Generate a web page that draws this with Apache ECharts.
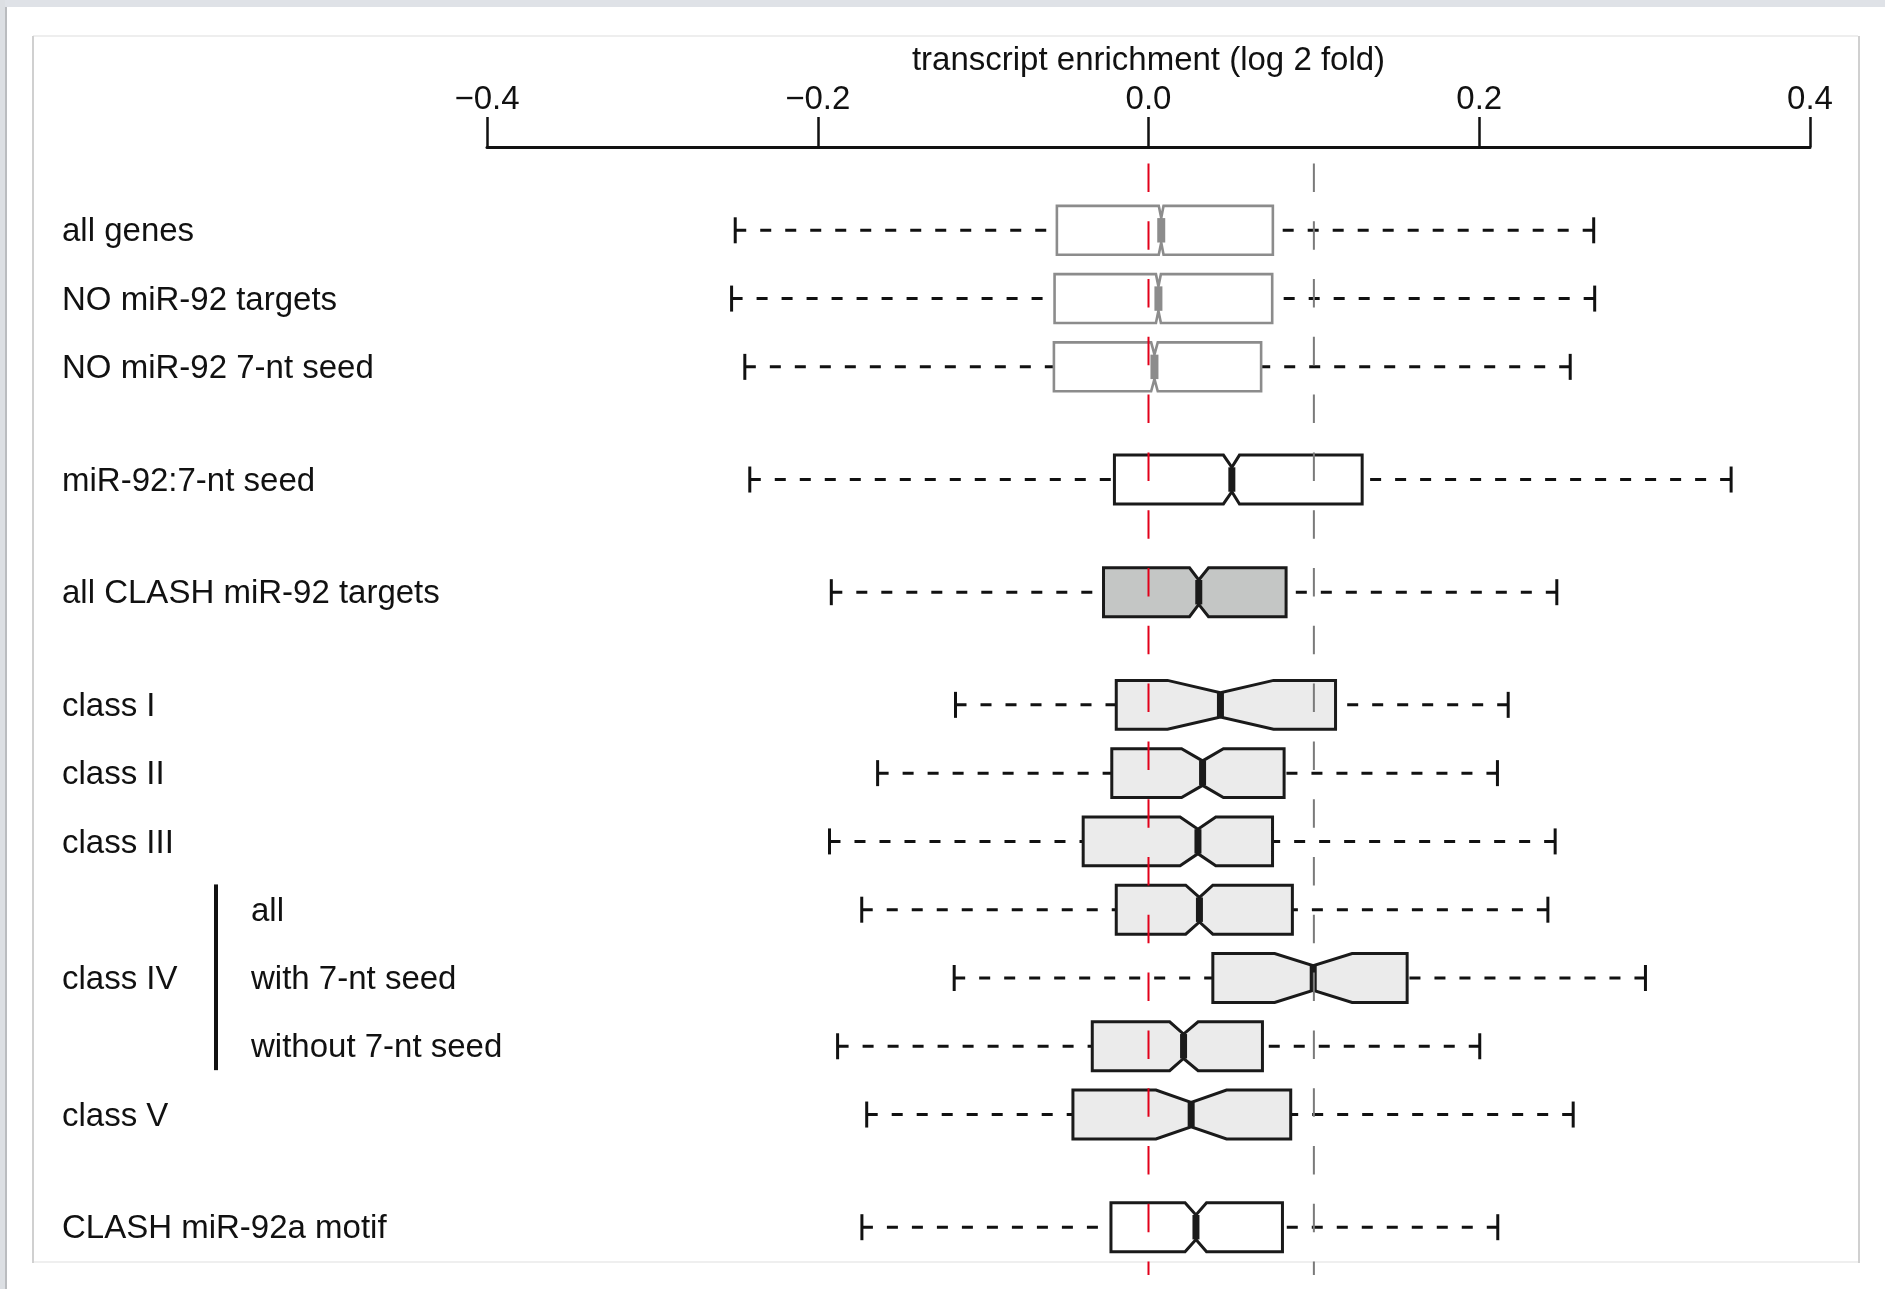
<!DOCTYPE html>
<html>
<head>
<meta charset="utf-8">
<script src="https://cdn.jsdelivr.net/npm/echarts@6/dist/echarts.min.js"></script>
<style>
  html, body { margin: 0; padding: 0; background: #ffffff; }
  #boxchart { width: 1885px; height: 1289px; }
</style>
</head>
<body>
<div id="boxchart"></div>
<script>
// row labels (left column and the class IV sub-rows)
var mainLabels = ['all genes', 'NO miR-92 targets', 'NO miR-92 7-nt seed', 'miR-92:7-nt seed',
  'all CLASH miR-92 targets', 'class I', 'class II', 'class III', '', 'class IV', '', 'class V',
  'CLASH miR-92a motif'];
var subLabels = ['', '', '', '', '', '', '', '', 'all', 'with 7-nt seed', 'without 7-nt seed', '', ''];
// vertical position of each box (rows with gaps between groups)
var rowPos = [1, 2, 3, 4.65, 6.3, 7.95, 8.95, 9.95, 10.95, 11.95, 12.95, 13.95, 15.6];

// box statistics (log2 fold)
var whiskerLow  = [-0.2499, -0.2521, -0.2441, -0.2411, -0.1918, -0.1167, -0.1638, -0.1929, -0.1734, -0.1175, -0.1880, -0.1704, -0.1733];
var q1          = [-0.0554, -0.0568, -0.0572, -0.0206, -0.0272, -0.0195, -0.0222, -0.0395, -0.0195,  0.0389, -0.0340, -0.0457, -0.0227];
var notchLo     = [ 0.0062,  0.0045,  0.0016,  0.0453,  0.0248,  0.0115,  0.0200,  0.0191,  0.0225,  0.0763,  0.0128,  0.0045,  0.0221];
var median      = [ 0.0077,  0.0060,  0.0036,  0.0504,  0.0304,  0.0435,  0.0327,  0.0299,  0.0308,  0.0996,  0.0212,  0.0258,  0.0287];
var notchHi     = [ 0.0091,  0.0075,  0.0056,  0.0550,  0.0363,  0.0756,  0.0453,  0.0407,  0.0389,  0.1231,  0.0300,  0.0472,  0.0351];
var q3          = [ 0.0752,  0.0748,  0.0681,  0.1292,  0.0832,  0.1131,  0.0820,  0.0750,  0.0870,  0.1564,  0.0689,  0.0860,  0.0810];
var whiskerHigh = [ 0.2692,  0.2698,  0.2550,  0.3523,  0.2469,  0.2175,  0.2110,  0.2459,  0.2415,  0.3005,  0.2003,  0.2568,  0.2112];
var boxKind = ['gray', 'gray', 'gray', 'open', 'dark', 'light', 'light', 'light', 'light', 'light', 'light', 'light', 'open'];

// reference lines
var refZero = 0.0;
var refTen = 0.1;

var fontFamily = "'Liberation Sans', Arial, Helvetica, sans-serif";
var styles = {
  gray:  {fill: '#ffffff', stroke: '#8c8c8c', width: 2.6, medianWidth: 8},
  open:  {fill: '#ffffff', stroke: '#1a1a1a', width: 3, medianWidth: 7},
  dark:  {fill: '#c4c6c5', stroke: '#1a1a1a', width: 3, medianWidth: 7},
  light: {fill: '#ebebeb', stroke: '#1a1a1a', width: 3, medianWidth: 7}
};
var boxWidth = 0.716;

var boxData = rowPos.map(function (p, i) {
  return [p, whiskerLow[i], q1[i], notchLo[i], median[i], notchHi[i], q3[i], whiskerHigh[i]];
});

function renderBox(params, api) {
  var i = params.dataIndex;
  var p = api.value(0);
  var c = api.coord([0, p])[1];
  var hh = api.size([0, boxWidth])[1] / 2;
  var px = function (k) { return api.coord([api.value(k), p])[0]; };
  var xlo = px(1), xq1 = px(2), xnl = px(3), xm = px(4), xnh = px(5), xq3 = px(6), xhi = px(7);
  var st = styles[boxKind[i]];
  var whisk = {stroke: '#111111', lineWidth: 3, lineDash: [11, 14]};
  var cap = {stroke: '#111111', lineWidth: 3};
  return {
    type: 'group',
    children: [
      {type: 'line', shape: {x1: xlo, y1: c, x2: xq1, y2: c}, style: whisk},
      {type: 'line', shape: {x1: xhi, y1: c, x2: xq3, y2: c}, style: whisk},
      {type: 'line', shape: {x1: xlo, y1: c - 13, x2: xlo, y2: c + 13}, style: cap},
      {type: 'line', shape: {x1: xhi, y1: c - 13, x2: xhi, y2: c + 13}, style: cap},
      {type: 'polygon', shape: {points: [
        [xq1, c - hh], [xnl, c - hh], [xm, c - hh / 2], [xnh, c - hh], [xq3, c - hh],
        [xq3, c + hh], [xnh, c + hh], [xm, c + hh / 2], [xnl, c + hh], [xq1, c + hh]
      ]}, style: {fill: st.fill, stroke: st.stroke, lineWidth: st.width, lineJoin: 'miter'}},
      {type: 'line', shape: {x1: xm, y1: c - hh / 2, x2: xm, y2: c + hh / 2},
        style: {stroke: st.stroke, lineWidth: st.medianWidth}}
    ]
  };
}

function renderLabel(params, api) {
  var i = params.dataIndex;
  var p = api.value(1);
  var y = api.coord([0, p])[1] + 2;
  var kids = [];
  if (mainLabels[i]) {
    kids.push({type: 'text', x: 62, y: y, style: {text: mainLabels[i], fontSize: 33, fontFamily: fontFamily,
      fill: '#111111', align: 'left', verticalAlign: 'middle'}});
  }
  if (subLabels[i]) {
    kids.push({type: 'text', x: 251, y: y, style: {text: subLabels[i], fontSize: 33, fontFamily: fontFamily,
      fill: '#111111', align: 'left', verticalAlign: 'middle'}});
  }
  if (mainLabels[i] === 'class IV') {
    // bracket joining the three class IV rows
    kids.push({type: 'line', shape: {x1: 216, y1: api.coord([0, p - 1.37])[1], x2: 216, y2: api.coord([0, p + 1.35])[1]},
      style: {stroke: '#111111', lineWidth: 4}});
  }
  return {type: 'group', children: kids};
}

var myChart = echarts.init(document.getElementById('boxchart'), null, {renderer: 'canvas'});

var option = {
  animation: false,
  backgroundColor: '#ffffff',
  graphic: [
    {type: 'rect', shape: {x: 0, y: 0, width: 1885, height: 7}, style: {fill: '#dfe2e7'}, silent: true},
    {type: 'rect', shape: {x: 0, y: 0, width: 5, height: 1289}, style: {fill: '#dcdfe3'}, silent: true},
    {type: 'rect', shape: {x: 5, y: 7, width: 2, height: 1282}, style: {fill: '#babcbf'}, silent: true},
    {type: 'line', shape: {x1: 33, y1: 36, x2: 1858, y2: 36}, style: {stroke: '#eeeeee', lineWidth: 2}, silent: true},
    {type: 'line', shape: {x1: 33, y1: 1262, x2: 1858, y2: 1262}, style: {stroke: '#efefef', lineWidth: 2}, silent: true},
    {type: 'line', shape: {x1: 33, y1: 36, x2: 33, y2: 1263}, style: {stroke: '#d0d0d0', lineWidth: 2}, silent: true},
    {type: 'line', shape: {x1: 1859, y1: 36, x2: 1859, y2: 1263}, style: {stroke: '#d0d0d0', lineWidth: 2}, silent: true}
  ],
  grid: {left: 487, right: 75, top: 147, bottom: 14},
  xAxis: {
    type: 'value',
    position: 'top',
    min: -0.4,
    max: 0.4,
    interval: 0.2,
    name: 'transcript enrichment (log 2 fold)',
    nameLocation: 'middle',
    nameGap: 70,
    nameTextStyle: {fontSize: 33, fontFamily: fontFamily, color: '#111111'},
    axisLine: {show: true, onZero: false, lineStyle: {color: '#111111', width: 3}},
    axisTick: {show: true, length: 30, lineStyle: {color: '#111111', width: 2.5}},
    axisLabel: {
      fontSize: 33, fontFamily: fontFamily, color: '#111111', margin: 31,
      formatter: function (v) { return (v < 0 ? '\u2212' : '') + Math.abs(v).toFixed(1); }
    },
    splitLine: {show: false}
  },
  yAxis: {
    type: 'value',
    inverse: true,
    min: -0.22,
    max: 16.3,
    show: false,
    splitLine: {show: false}
  },
  series: [
    {
      type: 'custom',
      renderItem: renderBox,
      data: boxData,
      encode: {x: [1, 2, 3, 4, 5, 6, 7], y: 0},
      z: 2
    },
    {
      type: 'line',
      data: [[refZero, 0.02], [refZero, 16.3]],
      symbol: 'none',
      lineStyle: {color: '#e2001a', width: 2, type: [28.5, 29.3]},
      z: 4
    },
    {
      type: 'line',
      data: [[refTen, 0.02], [refTen, 16.3]],
      symbol: 'none',
      lineStyle: {color: '#7a7a7a', width: 2, type: [28.5, 29.3]},
      z: 4
    },
    {
      type: 'custom',
      renderItem: renderLabel,
      data: rowPos.map(function (p) { return [0, p]; }),
      encode: {x: 0, y: 1},
      clip: false,
      z: 5
    }
  ]
};
myChart.setOption(option);
</script>
</body>
</html>
